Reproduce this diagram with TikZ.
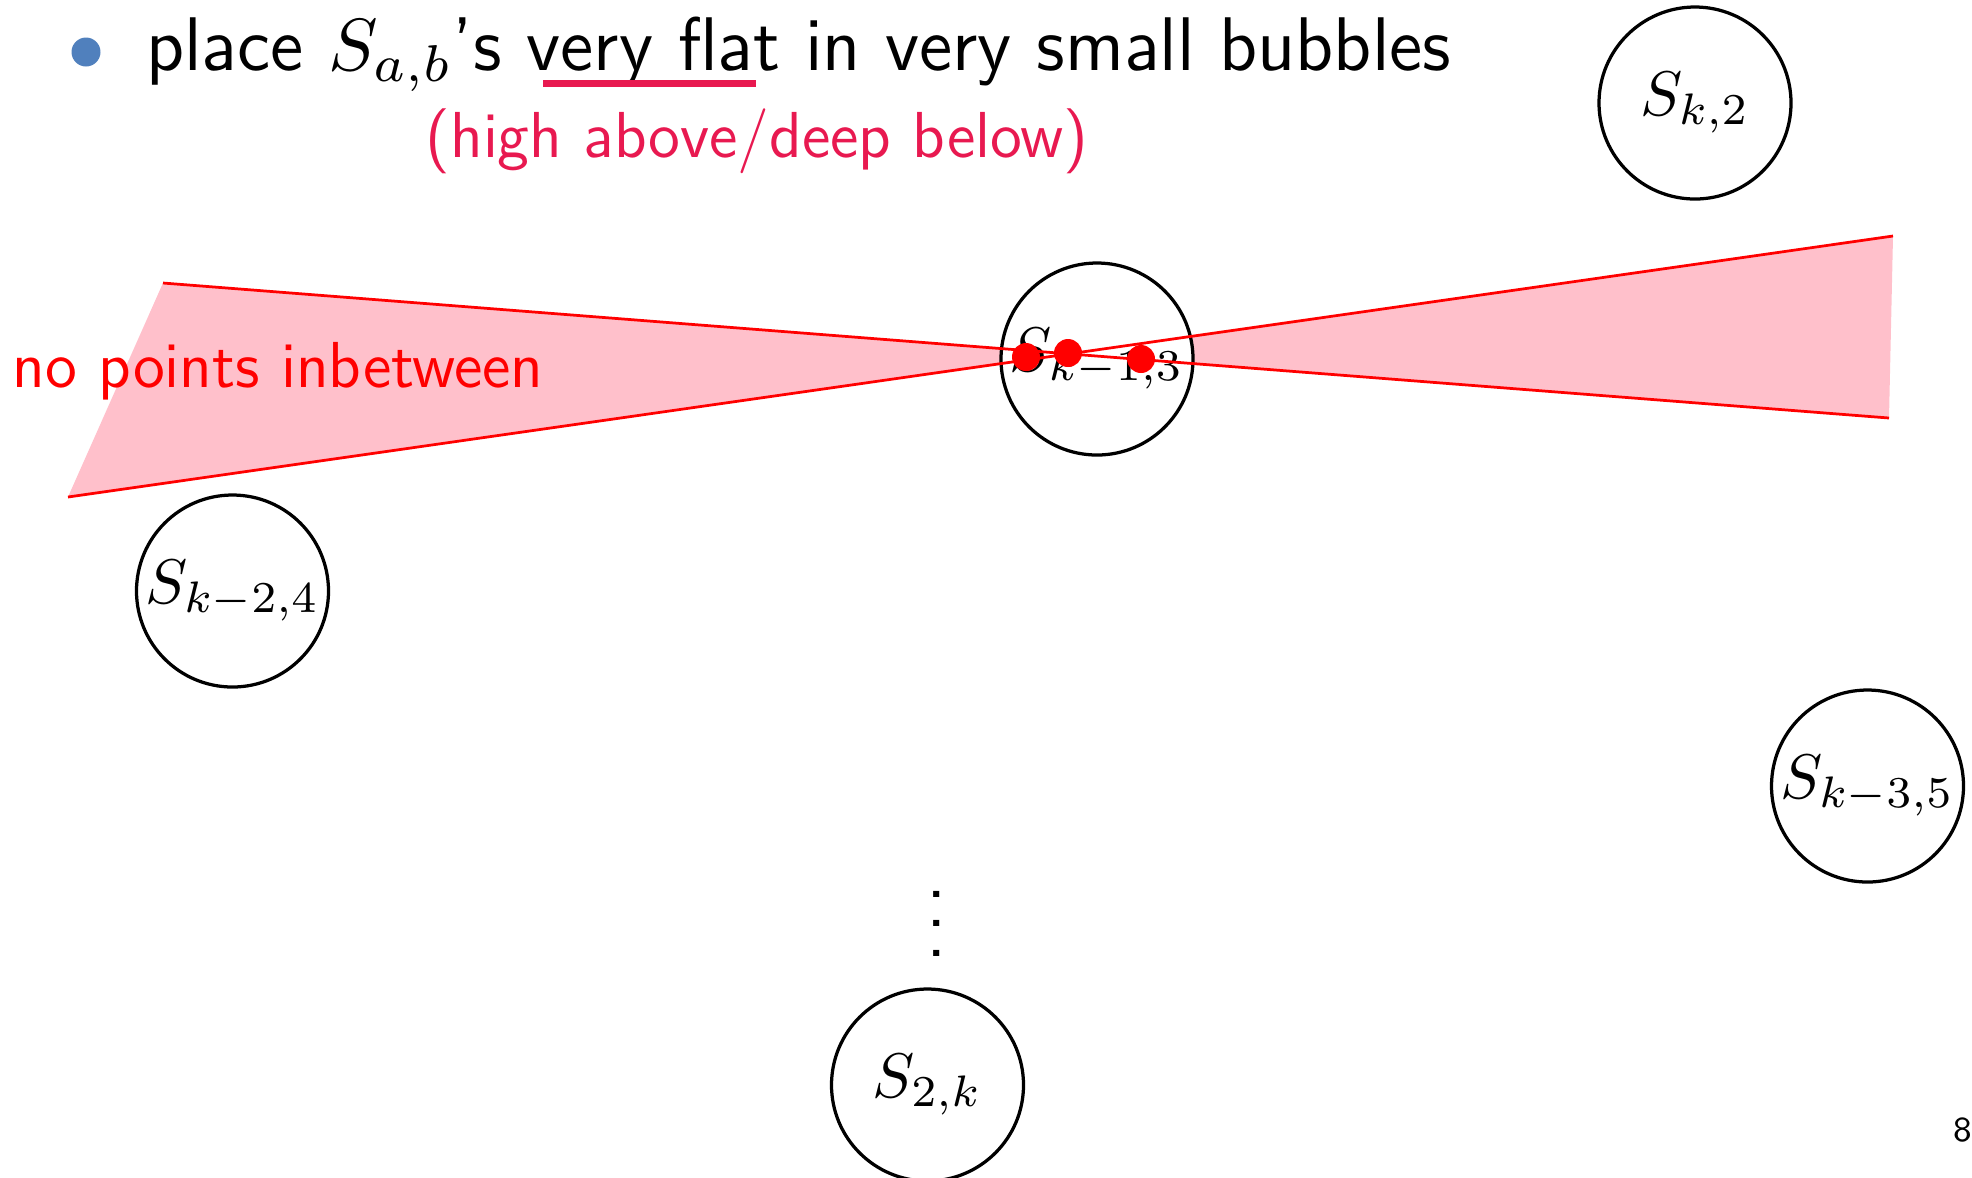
\documentclass[tikz,border=0pt]{standalone}
\usepackage{fontspec}
\usepackage{graphicx}
\renewcommand\familydefault{\sfdefault}
\definecolor{pinkfill}{RGB}{255,192,203}
\definecolor{crimsontext}{RGB}{232,25,80}
\definecolor{bulletblue}{RGB}{80,128,189}
\newcommand{\bigmath}[1]{\scalebox{1.26}{$#1$}}
\begin{document}
\begin{tikzpicture}[x=0.2pt,y=-0.2pt,
  bubble/.style={circle,draw,line width=0.65pt,fill=white,minimum size=38.4pt,inner sep=0pt,font=\fontsize{10}{12}\selectfont},
  redline/.style={red,line width=0.55pt},
  reddot/.style={circle,fill=red,inner sep=0pt,minimum size=5.6pt},
  txt/.style={inner sep=0pt,font=\fontsize{13}{15}\selectfont}]
\useasboundingbox (0,0) rectangle (1972,1177);
% top line
\node[circle,fill=bulletblue,inner sep=0pt,minimum size=5.8pt] (bullet) at (86,52) {};
\node[txt,anchor=base west,font=\fontsize{15.2}{18}\selectfont] (title) at (145,70) {place {\fontsize{10}{12}\selectfont\scalebox{1.48}{$S_{a,b}$}}'s very flat in very small bubbles};
\coordinate (u1) at (543,83.5);
\coordinate (u2) at (756,83.5);
\draw[crimsontext,line width=1.4pt] (u1) -- (u2);
\node[txt,anchor=base,text=crimsontext] (note) at (757,157) {(high above/deep below)};
% wedge
\coordinate (A1) at (163,283); \coordinate (A2) at (1889,418);
\coordinate (B1) at (68,497); \coordinate (B2) at (1893,236);
\fill[pinkfill] (A1) -- (A2) -- (B2) -- (B1) -- cycle;
\node[txt,anchor=base west,text=red] (nopts) at (12,387) {no points inbetween};
% bubbles
\node[bubble] (s2) at (1695,103) {\bigmath{S_{k,2}}};
\node[bubble] (s3) at (1097,359) {\bigmath{S_{k-1,3}}};
\node[bubble] (s4) at (232.5,591) {\bigmath{S_{k-2,4}}};
\node[bubble] (s5) at (1867.5,786) {\bigmath{S_{k-3,5}}};
\node[bubble] (sk) at (927.5,1085) {\bigmath{S_{2,k}}};
\node[inner sep=0pt,anchor=south,font=\fontsize{10}{12}\selectfont] (dots) at (937,957) {\scalebox{1.47}{$\vdots$}};
% lines and dots
\draw[redline] (A1) -- (A2);
\draw[redline] (B1) -- (B2);
\node[reddot] (d1) at (1026,357) {};
\node[reddot] (d2) at (1068,353) {};
\node[reddot] (d3) at (1141,359) {};
% page number
\node[inner sep=0pt,font=\fontsize{7}{8}\selectfont] (pg) at (1963,1130) {8};
\end{tikzpicture}
\end{document}
